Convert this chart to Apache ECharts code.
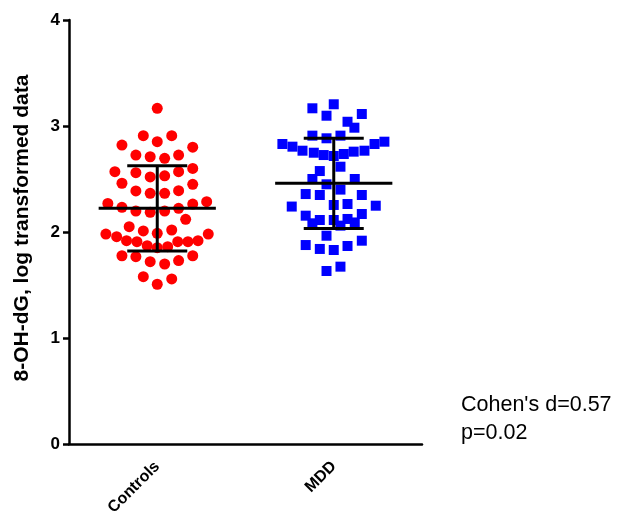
<!DOCTYPE html>
<html>
<head>
<meta charset="utf-8">
<script src="https://cdn.jsdelivr.net/npm/echarts@6/dist/echarts.min.js"></script>
<style>html,body{margin:0;padding:0;background:#fff}#c{width:619px;height:514px}</style>
</head>
<body>
<div id="c"></div>
<script>
var categories = ['Controls', 'MDD'];
var yTicks = [0, 1, 2, 3, 4];
var yTitle = '8-OH-dG, log transformed data';
var statLines = ["Cohen's d=0.57", 'p=0.02'];

// 8-OH-dG values (log transformed) per group
var controlsValues = [3.167,2.909,2.909,2.852,2.82,2.80,2.726,2.71,2.695,2.726,2.569,2.56,2.52,2.53,2.569,2.60,2.46,2.45,2.387,2.365,2.365,2.39,2.27,2.233,2.198,2.186,2.198,2.223,2.264,2.286,2.12,2.05,2.01,1.988,2.019,1.98,1.956,1.918,1.909,1.871,1.852,1.861,1.909,1.909,1.918,1.98,1.776,1.767,1.72,1.698,1.73,1.776,1.578,1.557,1.507];
// beeswarm horizontal spread (category units)
var controlsSpread = [0,-0.079,0.082,0,-0.200,0.201,-0.121,-0.040,0.042,0.121,-0.240,-0.121,-0.040,0.042,0.121,0.201,-0.200,0.201,-0.121,-0.040,0.042,0.121,-0.280,-0.200,-0.121,-0.040,0.042,0.121,0.201,0.280,0.161,-0.159,-0.079,0,0.082,-0.291,-0.230,-0.174,-0.115,-0.057,0,0.059,0.116,0.174,0.231,0.289,-0.200,-0.121,-0.040,0.042,0.121,0.201,-0.079,0.082,0];

var mddValues = [3.167,3.205,3.097,3.113,3.04,2.984,2.909,2.884,2.909,2.83,2.805,2.767,2.748,2.726,2.717,2.736,2.758,2.767,2.83,2.852,2.575,2.616,2.5,2.5,2.45,2.358,2.349,2.40,2.349,2.24,2.255,2.264,2.248,2.154,2.113,2.113,2.123,2.17,2.082,2.06,2.09,1.965,1.877,1.84,1.83,1.868,1.918,1.632,1.673];
var mddSpread = [-0.121,0,-0.041,0.159,0.078,0.117,-0.121,-0.041,0.038,-0.291,-0.234,-0.177,-0.113,-0.057,0,0.057,0.113,0.174,0.231,0.287,-0.079,0.038,-0.121,0.119,-0.041,-0.159,-0.079,0.038,0.159,-0.238,0,0.078,0.238,-0.159,-0.079,0,0.078,0.159,-0.121,0.038,0.119,-0.041,-0.159,-0.079,0,0.078,0.159,-0.041,0.038];

var groupMeans = [2.223, 2.459];
var groupSDs = [0.402, 0.425];

function pts(vals, spread, idx) {
  return vals.map(function (v, i) { return [idx + 1 + spread[i], v]; });
}

var chart = echarts.init(document.getElementById('c'));
var FONT = '"Liberation Sans", Arial, sans-serif';

chart.setOption({
  animation: false,
  grid: { left: 69, right: 197, top: 20, bottom: 70, containLabel: false, outerBoundsMode: 'none' },
  xAxis: [
    {
      type: 'category', data: categories, boundaryGap: true,
      axisLine: { lineStyle: { color: '#000', width: 2.5 } },
      axisTick: { alignWithLabel: true, length: 8, lineStyle: { color: '#000', width: 2.5 } },
      axisLabel: { rotate: 45, color: '#000', fontWeight: 'bold', fontSize: 16, fontFamily: FONT, margin: 20 }
    },
    { type: 'value', min: 0.5, max: 2.5, show: false }
  ],
  yAxis: {
    type: 'value', min: yTicks[0], max: yTicks[yTicks.length - 1], interval: 1,
    splitLine: { show: false },
    axisLine: { show: true, lineStyle: { color: '#000', width: 2.5 } },
    axisTick: { show: true, length: 6, lineStyle: { color: '#000', width: 2.5 } },
    axisLabel: { color: '#000', fontWeight: 'bold', fontSize: 17, fontFamily: FONT, margin: 9 }
  },
  series: [
    {
      type: 'scatter', xAxisIndex: 1, symbol: 'circle', symbolSize: 11,
      itemStyle: { color: '#ff0000', opacity: 1 },
      data: pts(controlsValues, controlsSpread, 0), z: 2
    },
    {
      type: 'scatter', xAxisIndex: 1, symbol: 'rect', symbolSize: 10,
      itemStyle: { color: '#0000ff', opacity: 1 },
      data: pts(mddValues, mddSpread, 1), z: 2
    },
    {
      type: 'custom', xAxisIndex: 1, z: 5,
      data: groupMeans.map(function (m, i) { return [i + 1, m, groupSDs[i]]; }),
      renderItem: function (params, api) {
        var x = api.value(0), m = api.value(1), s = api.value(2);
        var st = { stroke: '#000', lineWidth: 3 };
        function seg(x1, y1, x2, y2) {
          var a = api.coord([x1, y1]), b = api.coord([x2, y2]);
          return { type: 'line', shape: { x1: a[0], y1: a[1], x2: b[0], y2: b[1] }, style: st };
        }
        return {
          type: 'group',
          children: [
            seg(x - 0.332, m, x + 0.332, m),
            seg(x - 0.17, m + s, x + 0.17, m + s),
            seg(x - 0.17, m - s, x + 0.17, m - s),
            seg(x, m - s, x, m + s)
          ]
        };
      }
    }
  ],
  graphic: [
    {
      type: 'text', x: 22, y: 228, rotation: Math.PI / 2,
      style: { text: yTitle, fill: '#000', font: 'bold 21px ' + FONT, textAlign: 'center', textVerticalAlign: 'middle' }
    },
    {
      type: 'text', x: 461, y: 405,
      style: { text: statLines[0], fill: '#000', font: '21.5px ' + FONT, textAlign: 'left', textVerticalAlign: 'middle' }
    },
    {
      type: 'text', x: 461, y: 433,
      style: { text: statLines[1], fill: '#000', font: '21.5px ' + FONT, textAlign: 'left', textVerticalAlign: 'middle' }
    }
  ]
});
</script>
</body>
</html>
